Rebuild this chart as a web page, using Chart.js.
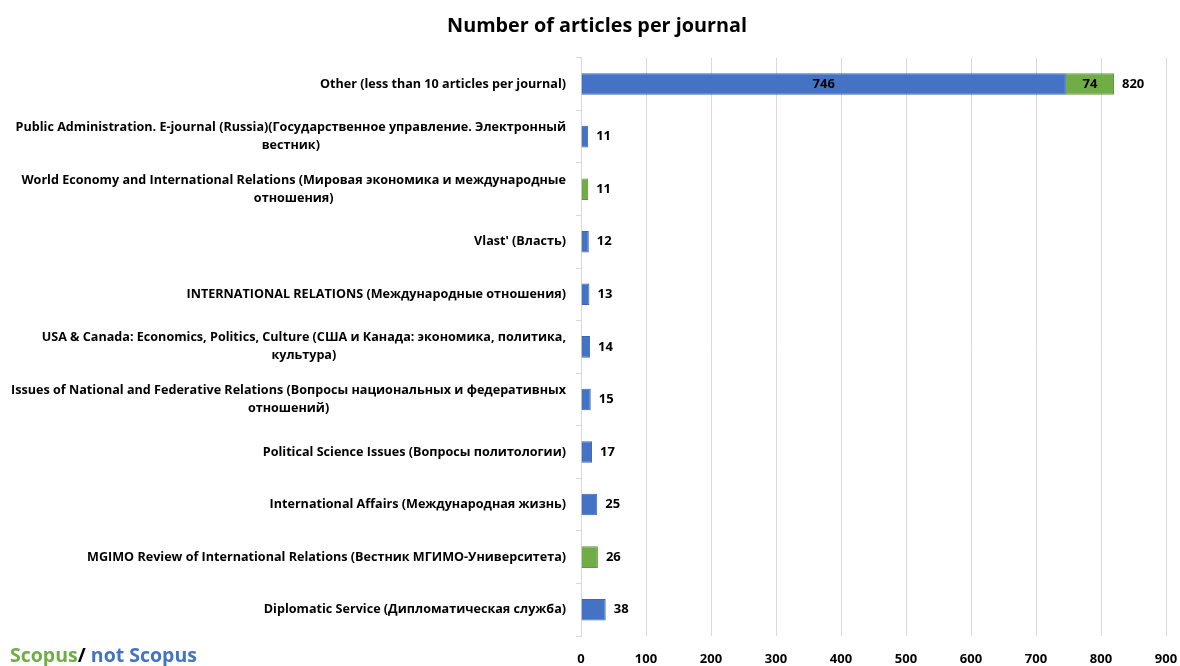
<!DOCTYPE html>
<html>
<head>
<meta charset="utf-8">
<script src="https://cdn.jsdelivr.net/npm/chart.js@4.4.1/dist/chart.umd.min.js"></script>
<style>
  html, body { margin: 0; padding: 0; background: #ffffff; }
  #wrap { position: relative; width: 1180px; height: 666px; }
  #legendNote {
    position: absolute; left: 10px; top: 642px;
    font-family: "Open Sans", sans-serif; font-weight: 700; font-size: 19.5px;
    line-height: 26px; white-space: nowrap;
  }
  #legendNote .sc { color: #70AD47; }
  #legendNote .sl { color: #000000; }
  #legendNote .ns { color: #4472C4; }
</style>
</head>
<body>
<div id="wrap">
  <canvas id="c" width="1180" height="666"></canvas>
  <div id="legendNote"><span class="sc">Scopus</span><span class="sl">/</span><span class="ns"> not Scopus</span></div>
</div>
<script>
// Journals, top to bottom (multi-line names are pre-wrapped)
const journals = [
  ["Other (less than 10 articles per journal)"],
  ["Public Administration. E-journal (Russia)(Государственное управление. Электронный", "вестник)"],
  ["World Economy and International Relations (Мировая экономика и международные", "отношения)"],
  ["Vlast' (Власть)"],
  ["INTERNATIONAL RELATIONS (Международные отношения)"],
  ["USA & Canada: Economics, Politics, Culture (США и Канада: экономика, политика,", "культура)"],
  ["Issues of National and Federative Relations (Вопросы национальных и федеративных", "отношений)"],
  ["Political Science Issues (Вопросы политологии)"],
  ["International Affairs (Международная жизнь)"],
  ["MGIMO Review of International Relations (Вестник МГИМО-Университета)"],
  ["Diplomatic Service (Дипломатическая служба)"]
];

// Article counts for journals not indexed in Scopus
const notScopus = [746, 11, null, 12, 13, 14, 15, 17, 25, null, 38];
// Article counts for Scopus-indexed journals
const scopus = [74, null, 11, null, null, null, null, null, null, 26, null];

// Value axis ticks
const xTicks = [0, 100, 200, 300, 400, 500, 600, 700, 800, 900];

const LABEL_FONT = '700 12.6px "Open Sans", sans-serif';
const VALUE_FONT = '700 13px "Open Sans", sans-serif';

// Draws the journal names: each block right-aligned to the axis, lines centred within the block
const journalLabels = {
  id: 'journalLabels',
  afterDraw(chart) {
    const ctx = chart.ctx;
    const y = chart.scales.y;
    const right = chart.chartArea.left - 15;
    const lh = 18;
    ctx.save();
    ctx.font = LABEL_FONT;
    ctx.fillStyle = '#000000';
    ctx.textAlign = 'center';
    ctx.textBaseline = 'middle';
    journals.forEach((lines, i) => {
      const cy = y.getPixelForTick(i);
      const w = Math.max(...lines.map(l => ctx.measureText(l).width));
      const cx = right - w / 2;
      const y0 = cy - (lines.length - 1) * lh / 2;
      lines.forEach((l, k) => ctx.fillText(l, cx, y0 + k * lh));
    });
    ctx.restore();
  }
};

// Segment values inside composite bars and totals past the bar ends
const valueLabels = {
  id: 'valueLabels',
  afterDatasetsDraw(chart) {
    const ctx = chart.ctx;
    const x = chart.scales.x;
    ctx.save();
    ctx.font = VALUE_FONT;
    ctx.fillStyle = '#000000';
    ctx.textBaseline = 'middle';
    const m0 = chart.getDatasetMeta(0);
    const m1 = chart.getDatasetMeta(1);
    journals.forEach((_, i) => {
      const a = notScopus[i], b = scopus[i];
      const total = (a || 0) + (b || 0);
      const cy = (a != null ? m0.data[i] : m1.data[i]).y;
      if (a != null && b != null) {
        ctx.textAlign = 'center';
        [m0.data[i], m1.data[i]].forEach((el, k) => {
          const v = k === 0 ? a : b;
          ctx.fillText(String(v), (el.x + el.base) / 2, el.y);
        });
      }
      ctx.textAlign = 'left';
      ctx.fillText(String(total), x.getPixelForValue(total) + 8, cy);
    });
    ctx.restore();
  }
};

new Chart(document.getElementById('c'), {
  type: 'bar',
  data: {
    labels: journals,
    datasets: [
      {
        label: 'not Scopus',
        data: notScopus,
        backgroundColor: '#4472C4',
        borderColor: '#3A66B5',
        borderWidth: 1,
        categoryPercentage: 0.41,
        barPercentage: 1
      },
      {
        label: 'Scopus',
        data: scopus,
        backgroundColor: '#70AD47',
        borderColor: '#5E9A38',
        borderWidth: 1,
        categoryPercentage: 0.41,
        barPercentage: 1
      }
    ]
  },
  options: {
    indexAxis: 'y',
    responsive: false,
    animation: false,
    devicePixelRatio: 1,
    layout: { padding: { left: 28, right: 14, top: 0, bottom: 0 } },
    plugins: {
      legend: { display: false },
      tooltip: { enabled: false },
      title: {
        display: true,
        text: 'Number of articles per journal',
        color: '#000000',
        font: { family: '"Open Sans", sans-serif', size: 19.8, weight: '700', lineHeight: 1.2 },
        padding: { top: 14, bottom: 20 }
      }
    },
    scales: {
      x: {
        stacked: true,
        min: 0,
        max: 900,
        afterBuildTicks: s => { s.ticks = xTicks.map(v => ({ value: v })); },
        afterFit: s => { s.height = 30; s.paddingLeft = 0; s.paddingRight = 0; },
        border: { display: false },
        grid: { color: '#d9d9d9', drawTicks: false, lineWidth: 1 },
        ticks: {
          color: '#000000',
          padding: 15,
          font: { family: '"Open Sans", sans-serif', size: 13, weight: '700' }
        }
      },
      y: {
        stacked: true,
        afterFit: s => { s.width = 553; },
        border: { display: true, color: '#d9d9d9' },
        grid: { color: '#d9d9d9', drawOnChartArea: false, drawTicks: true, tickLength: 5, offset: true },
        ticks: { display: false }
      }
    }
  },
  plugins: [journalLabels, valueLabels]
});
</script>
</body>
</html>
